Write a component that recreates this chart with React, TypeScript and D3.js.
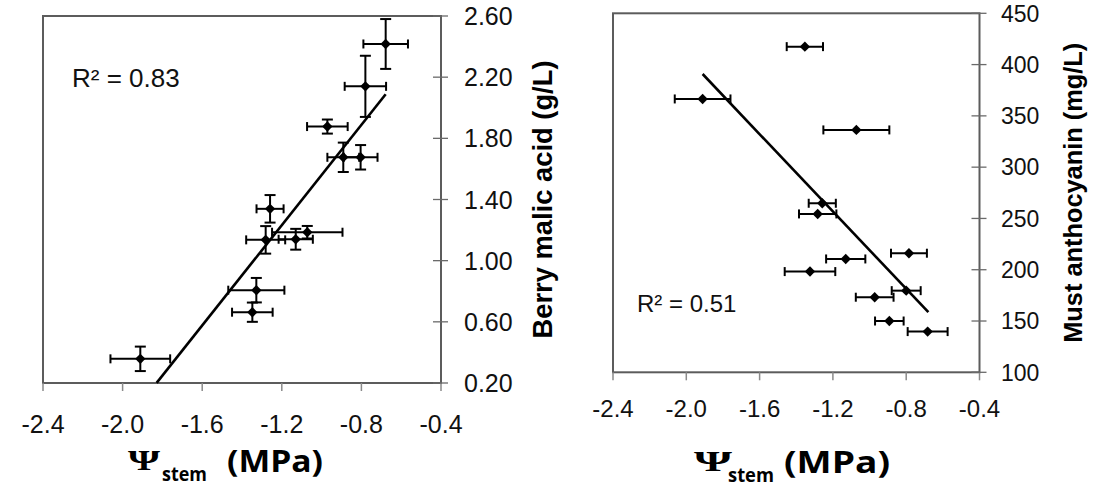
import React from 'react';
import * as d3 from 'd3';

// ---------- data ----------
const xTicks = [-2.4, -2.0, -1.6, -1.2, -0.8, -0.4];
const malicTicks = [0.2, 0.6, 1.0, 1.4, 1.8, 2.2, 2.6];
const anthoTicks = [100, 150, 200, 250, 300, 350, 400, 450];

// Berry malic acid vs stem water potential
const malicX = [-0.678, -0.78, -0.971, -0.891, -0.804, -1.259, -1.281, -1.13, -1.072, -1.328, -1.348, -1.911];
const malicY = [2.417, 2.14, 1.877, 1.676, 1.676, 1.339, 1.136, 1.14, 1.186, 0.807, 0.663, 0.358];
const malicXErr = [0.112, 0.104, 0.102, 0.08, 0.085, 0.068, 0.098, 0.086, 0.177, 0.141, 0.102, 0.15];
const malicYErr = [0.163, 0.2, 0.046, 0.096, 0.08, 0.09, 0.09, 0.068, 0.041, 0.08, 0.063, 0.08];
const malicFitX = [-1.829, -0.678];
const malicFitCoef = [3.2, 1.64]; // intercept, slope

// Must anthocyanin vs stem water potential
const anthoX = [-1.353, -1.911, -1.072, -1.258, -1.283, -0.785, -1.13, -1.325, -0.8, -0.972, -0.892, -0.683];
const anthoY = [417.5, 366.5, 336.3, 264.8, 254.4, 216.1, 210.5, 198.2, 179.6, 173.2, 150, 139.7];
const anthoXErr = [0.099, 0.152, 0.18, 0.074, 0.102, 0.098, 0.107, 0.138, 0.079, 0.103, 0.078, 0.109];
const anthoFitX = [-1.911, -0.679];
const anthoFitCoef = [30.6, -188.5];

type PanelProps = {
  x0: number; x1: number; yTop: number; yBot: number;
  yDomain: [number, number];
  yTicks: number[]; yFmt: (v: number) => string;
  xs: number[]; ys: number[]; xErr: number[]; yErr?: number[];
  fitX: number[]; fitCoef: number[];
  tickFont: number; xLabelY: number; yLabelX: number; yTickFont: number;
  r2: string; r2X: number; r2Y: number; r2Font: number;
  yTitle: string; yTitleX: number; yTitleLen: number; yTitleFont: number;
  title: { psiX: number; psiLen: number; stemX: number; stemLen: number; mpaX: number; mpaLen: number; base: number };
};

function Panel(p: PanelProps) {
  const x = d3.scaleLinear().domain([-2.4, -0.4]).range([p.x0, p.x1]);
  const y = d3.scaleLinear().domain(p.yDomain).range([p.yBot, p.yTop]);
  const fitPts: [number, number][] = p.fitX.map((v) => [v, p.fitCoef[0] + p.fitCoef[1] * v]);
  const line = d3.line<[number, number]>().x((d) => x(d[0])).y((d) => y(d[1]));
  const cap = 4.5;
  const dm = 5.2;
  const yMid = (p.yTop + p.yBot) / 2;
  return (
    <g>
      <rect x={p.x0} y={p.yTop} width={p.x1 - p.x0} height={p.yBot - p.yTop} fill="none" stroke="#5c5c5c" strokeWidth={2} />
      {xTicks.map((t) => (
        <g key={'xt' + t}>
          <line x1={x(t)} x2={x(t)} y1={p.yBot} y2={p.yBot + 8} stroke="#8a8a8a" strokeWidth={1.5} />
          <text x={x(t)} y={p.xLabelY} textAnchor="middle" fontFamily="Liberation Sans, Arial, sans-serif" fontSize={p.tickFont} fill="#111">
            {t.toFixed(1)}
          </text>
        </g>
      ))}
      {p.yTicks.map((t) => (
        <g key={'yt' + t}>
          <line x1={p.x1 - 8} x2={p.x1 + 7} y1={y(t)} y2={y(t)} stroke="#6a6a6a" strokeWidth={1.3} />
          <text x={p.yLabelX} y={y(t)} dy="0.36em" textAnchor="start" fontFamily="Liberation Sans, Arial, sans-serif" fontSize={p.yTickFont} fill="#111">
            {p.yFmt(t)}
          </text>
        </g>
      ))}
      <path d={line(fitPts) || ''} fill="none" stroke="#000" strokeWidth={2.6} />
      {p.xs.map((xv, i) => {
        const cx = x(xv);
        const cy = y(p.ys[i]);
        const xl = x(xv - p.xErr[i]);
        const xr = x(xv + p.xErr[i]);
        return (
          <g key={'pt' + i} stroke="#000" strokeWidth={2}>
            <line x1={xl} x2={xr} y1={cy} y2={cy} />
            <line x1={xl} x2={xl} y1={cy - cap} y2={cy + cap} />
            <line x1={xr} x2={xr} y1={cy - cap} y2={cy + cap} />
            {p.yErr ? (
              <g>
                <line x1={cx} x2={cx} y1={y(p.ys[i] + p.yErr[i])} y2={y(p.ys[i] - p.yErr[i])} />
                <line x1={cx - 5.5} x2={cx + 5.5} y1={y(p.ys[i] + p.yErr[i])} y2={y(p.ys[i] + p.yErr[i])} />
                <line x1={cx - 5.5} x2={cx + 5.5} y1={y(p.ys[i] - p.yErr[i])} y2={y(p.ys[i] - p.yErr[i])} />
              </g>
            ) : null}
            <path d={`M${cx},${cy - dm}L${cx + dm},${cy}L${cx},${cy + dm}L${cx - dm},${cy}Z`} fill="#000" stroke="none" />
          </g>
        );
      })}
      <text x={p.r2X} y={p.r2Y} fontFamily="Liberation Sans, Arial, sans-serif" fontSize={p.r2Font} fill="#111">
        {p.r2}
      </text>
      <text
        transform={`translate(${p.yTitleX},${yMid}) rotate(-90)`}
        textAnchor="middle"
        fontFamily="Liberation Sans, Arial, sans-serif"
        fontWeight="bold"
        fontSize={p.yTitleFont}
        textLength={p.yTitleLen}
        lengthAdjust="spacingAndGlyphs"
        fill="#000"
      >
        {p.yTitle}
      </text>
      <text x={p.title.psiX} y={p.title.base - 2} fontFamily="Liberation Serif, serif" fontWeight="bold" fontSize={30} textLength={p.title.psiLen} lengthAdjust="spacingAndGlyphs" fill="#000">
        Ψ
      </text>
      <text x={p.title.stemX} y={p.title.base + 9} fontFamily="Open Sans, sans-serif" fontWeight="bold" fontSize={20} textLength={p.title.stemLen} lengthAdjust="spacingAndGlyphs" fill="#000">
        stem
      </text>
      <text x={p.title.mpaX} y={p.title.base} fontFamily="Open Sans, sans-serif" fontWeight="bold" fontSize={30} textLength={p.title.mpaLen} lengthAdjust="spacingAndGlyphs" fill="#000">
        (MPa)
      </text>
    </g>
  );
}

export default function App() {
  return (
    <svg width={1110} height={487} viewBox="0 0 1110 487" style={{ position: 'absolute', left: 0, top: 0, background: '#fff' }}>
      <rect x={0} y={0} width={1110} height={487} fill="#fff" />
      <Panel
        x0={43} x1={441} yTop={16} yBot={383}
        yDomain={[0.2, 2.6]} yTicks={malicTicks} yFmt={(v) => v.toFixed(2)}
        xs={malicX} ys={malicY} xErr={malicXErr} yErr={malicYErr}
        fitX={malicFitX} fitCoef={malicFitCoef}
        tickFont={25} xLabelY={433} yLabelX={464} yTickFont={25}
        r2="R² = 0.83" r2X={72} r2Y={87} r2Font={26}
        yTitle="Berry malic acid (g/L)" yTitleX={552} yTitleLen={278} yTitleFont={27}
        title={{ psiX: 128, psiLen: 32, stemX: 162, stemLen: 45, mpaX: 227, mpaLen: 96, base: 472 }}
      />
      <Panel
        x0={613} x1={979.5} yTop={13.3} yBot={372.3}
        yDomain={[100, 450]} yTicks={anthoTicks} yFmt={(v) => String(v)}
        xs={anthoX} ys={anthoY} xErr={anthoXErr}
        fitX={anthoFitX} fitCoef={anthoFitCoef}
        tickFont={24} xLabelY={417} yLabelX={1001} yTickFont={23}
        r2="R² = 0.51" r2X={637} r2Y={312} r2Font={24}
        yTitle="Must anthocyanin (mg/L)" yTitleX={1082} yTitleLen={300} yTitleFont={25}
        title={{ psiX: 694, psiLen: 38, stemX: 728, stemLen: 46, mpaX: 784, mpaLen: 106, base: 473 }}
      />
    </svg>
  );
}
